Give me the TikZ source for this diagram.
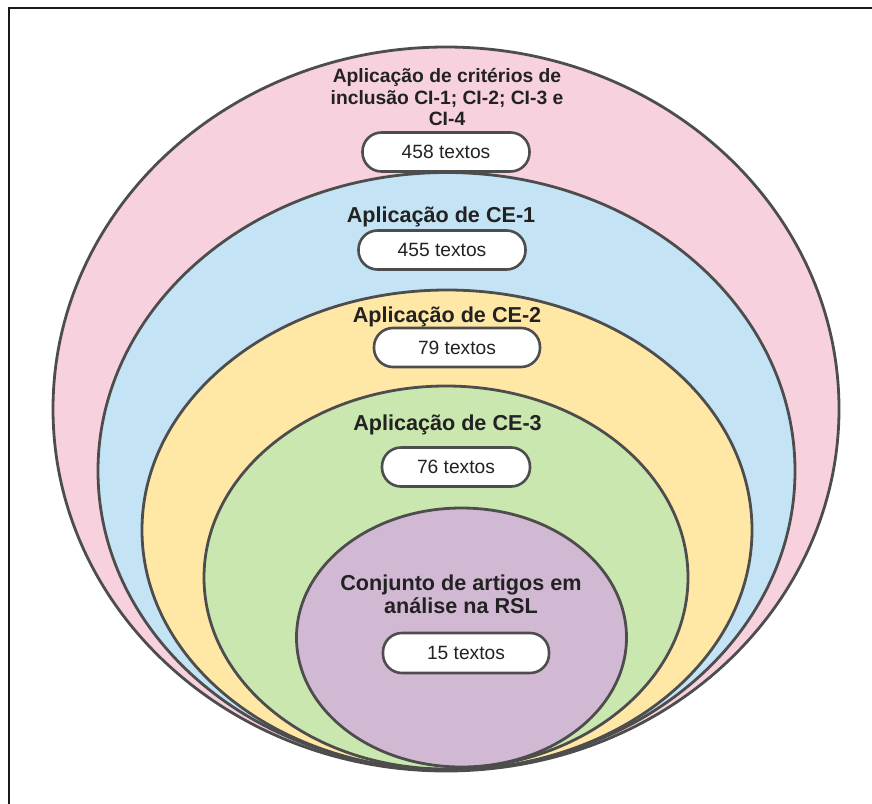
\documentclass[tikz,border=0pt]{standalone}
\usepackage{fontspec}
\usepackage{xcolor}
\usepackage{tikz}
\usetikzlibrary{shapes.geometric, positioning}
\setmainfont{Liberation Sans}
\definecolor{rosa}{HTML}{F7D1DE}
\definecolor{azul}{HTML}{C4E3F5}
\definecolor{amarelo}{HTML}{FFE8A6}
\definecolor{verde}{HTML}{C9E7AE}
\definecolor{lilas}{HTML}{D2B9D3}
\definecolor{contorno}{HTML}{4D4D4D}
\definecolor{texto}{HTML}{222222}

\begin{document}
\begin{tikzpicture}[x=1pt,y=-1pt,
    camada/.style={ellipse,draw=contorno,line width=2.8pt,inner sep=0pt},
    pilula/.style={rectangle,draw=contorno,fill=white,line width=2.6pt,rounded corners=19pt,minimum height=39pt,inner sep=0pt,font=\fontsize{19.2}{22}\selectfont,text=texto},
    titulo/.style={font=\fontsize{21.6}{23}\selectfont\bfseries,text=texto,align=center}]
    \useasboundingbox (0,0) rectangle (872,803);
    \clip (0,0) rectangle (872,803);
    % Moldura
    \draw[line width=2.2pt,black!90] (9,8) rectangle (890,820);

    % Camadas
    \node[camada,fill=rosa,minimum width=786pt,minimum height=724pt] (cl) at (446,409) {};
    \node[camada,fill=azul,minimum width=697pt,minimum height=597pt] (ce1) at (446.5,471) {};
    \node[camada,fill=amarelo,minimum width=610pt,minimum height=480pt] (ce2) at (447,530) {};
    \node[camada,fill=verde,minimum width=484pt,minimum height=383pt] (ce3) at (446,577.5) {};
    \node[camada,fill=lilas,minimum width=330pt,minimum height=259pt] (rsl) at (461.5,637.5) {};

    % Criterios de inclusao
    \node[titulo,font=\fontsize{19.3}{21.5}\selectfont\bfseries] (tcl) at (447,97.5) {Aplicação de critérios de\\inclusão CI-1; CI-2; CI-3 e\\CI-4};
    \node[pilula,minimum width=167pt] (ncl) at (446,152) {458 textos};

    % CE-1
    \node[titulo,anchor=base] (tce1) at (441,222) {Aplicação de CE-1};
    \node[pilula,minimum width=167pt] (nce1) at (442,250) {455 textos};

    % CE-2
    \node[titulo,anchor=base] (tce2) at (447,322) {Aplicação de CE-2};
    \node[pilula,minimum width=166pt] (nce2) at (457,347.5) {79 textos};

    % CE-3
    \node[titulo,anchor=base] (tce3) at (447.5,430) {Aplicação de CE-3};
    \node[pilula,minimum width=148pt] (nce3) at (456,467) {76 textos};

    % Artigos em analise
    \node[titulo] (trsl) at (461,594) {Conjunto de artigos em\\análise na RSL};
    \node[pilula,minimum width=166pt,minimum height=40pt] (nrsl) at (466,653) {15 textos};
\end{tikzpicture}
\end{document}
